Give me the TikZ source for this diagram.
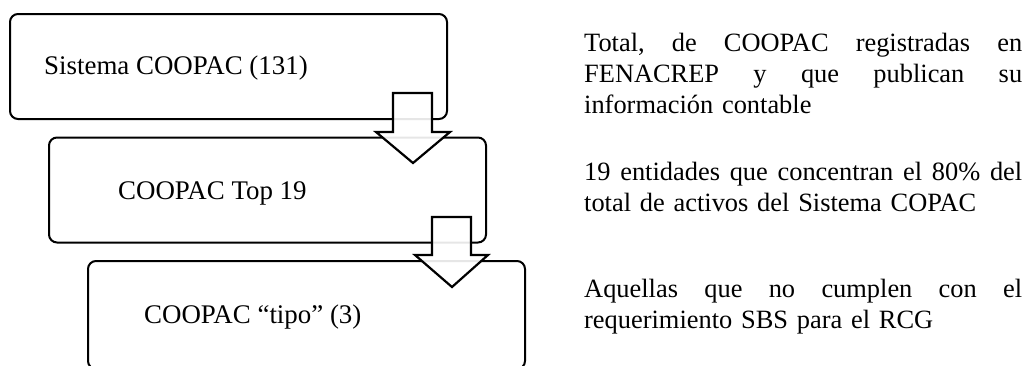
\documentclass[tikz,border=0pt]{standalone}
\usepackage{fontspec}
\setmainfont{Liberation Serif}
\newcommand\justline[1]{\leavevmode\hbox to 438pt{#1}}
\tikzset{
  stagebox/.style={draw=black, line width=2pt, rounded corners=8pt,
    minimum width=437pt, minimum height=105pt, inner sep=0pt},
  boxtext/.style={anchor=base west, inner sep=0pt, font=\fontsize{26.9}{31}\selectfont},
  desc/.style={anchor=north west, inner sep=0pt, text width=438pt, align=left,
    font=\fontsize{26.4}{31}\selectfont},
  blockarrow/.style={draw=black, line width=2.2pt, fill=white, fill opacity=0.9,
    line join=miter}
}
\begin{document}
\begin{tikzpicture}[x=1pt,y=-1pt]
\useasboundingbox (0,0) rectangle (1028,365);
\clip (0,0) rectangle (1028,365);
% stages
\node[stagebox] (s1) at (228.5,66.5) {};
\node[stagebox] (s2) at (267.5,190) {};
\node[stagebox, minimum height=108pt] (s3) at (306.5,315) {};
% stage texts
\node[boxtext] (t1) at (44,74) {Sistema COOPAC (131)};
\node[boxtext] (t2) at (118,199) {COOPAC Top 19};
\node[boxtext] (t3) at (144,323) {COOPAC “tipo” (3)};
% block arrows
\draw[blockarrow] (393,93) -- (432,93) -- (432,132) -- (450,132) -- (413,163)
  -- (376,132) -- (393,132) -- cycle;
\draw[blockarrow] (432,217) -- (471,217) -- (471,255) -- (488,255) -- (452,287)
  -- (415,255) -- (432,255) -- cycle;
% descriptions
\node[desc] (d1) at (584,29.3) {\strut\justline{Total, \hfill de \hfill COOPAC \hfill registradas \hfill en}\\
  \justline{FENACREP \hfill y \hfill que \hfill publican \hfill su}\\
  información contable};
\node[desc] (d2) at (584,158.3) {\strut\justline{19 \hfill entidades \hfill que \hfill concentran \hfill el \hfill 80\% \hfill del}\\
  total de activos del Sistema COPAC};
\node[desc] (d3) at (584,275.3) {\strut\justline{Aquellas \hfill que \hfill no \hfill cumplen \hfill con \hfill el}\\
  requerimiento SBS para el RCG};
\end{tikzpicture}
\end{document}
